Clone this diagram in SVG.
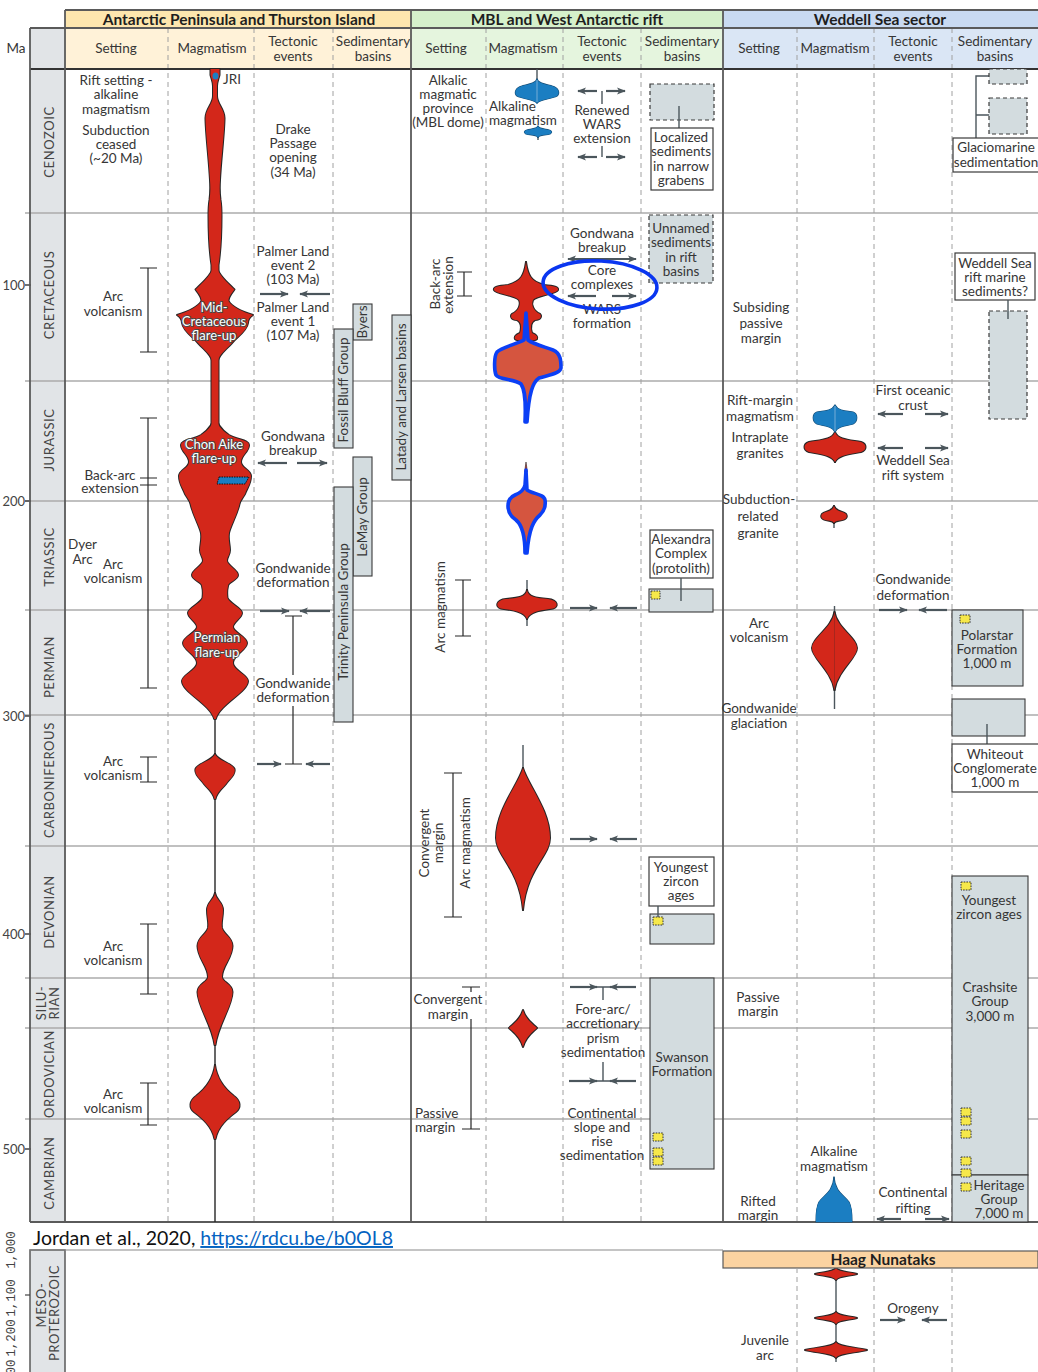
<svg xmlns="http://www.w3.org/2000/svg" width="1038" height="1372" viewBox="0 0 1038 1372">
<defs>
<style>
text{font-family:Lato,"Open Sans","Liberation Sans",sans-serif;font-size:13.5px;fill:#363636}
.c{text-anchor:middle}
.ttl{font-weight:700;font-size:15.5px;fill:#1e1e1e;text-anchor:middle}
.per{font-size:13px;letter-spacing:0.6px;fill:#454545;text-anchor:middle}
.ma{font-size:13px;fill:#444;text-anchor:end}
.mono{font-family:"Liberation Mono","DejaVu Sans Mono",monospace;font-size:12.5px;fill:#444;text-anchor:middle}
.grid{stroke:#ababab;stroke-width:1.5}
.frm{stroke:#5a5a5a;stroke-width:1.8;fill:none}
.dash{stroke:#a0a0a0;stroke-width:1;stroke-dasharray:5 4}
.bar{stroke:#262626;stroke-width:1.2;fill:none}
.arr{stroke:#4b565c;stroke-width:2.2;fill:none;marker-end:url(#ah)}
.stem{stroke:#4b565c;stroke-width:1.4;fill:none}
.sed{fill:#d3dcdf;stroke:#3a3a3a;stroke-width:1.1}
.sedd{fill:#d3dcdf;stroke:#3a3a3a;stroke-width:1.2;stroke-dasharray:4 3}
.lbl{fill:#fff;stroke:#3a3a3a;stroke-width:1.2}
.zr{fill:#f6e84a;stroke:#333;stroke-width:1;stroke-dasharray:1.6 1.1}
.ol{fill:#d3271a;stroke:#262626;stroke-width:2;stroke-linejoin:round}
.fl{fill:#d3271a;stroke:none}
.olb{fill:#1b7ec2;stroke:#174f78;stroke-width:1.2;stroke-linejoin:round}
.flb{fill:#1b7ec2;stroke:none}
.hl{fill:#d5553f;stroke:#0b3ff5;stroke-width:3.6;stroke-linejoin:round}
.halo{fill:#fff;stroke:#4a4a4a;stroke-width:1.8;paint-order:stroke;stroke-linejoin:round;text-anchor:middle;font-size:13px}
</style>
<marker id="ah" viewBox="0 0 10 8" refX="9" refY="4" markerWidth="9" markerHeight="7.2" orient="auto-start-reverse" markerUnits="userSpaceOnUse">
<path d="M0,0 L10,4 L0,8 L2.5,4 Z" fill="#4b565c"/>
</marker>

<!-- red magmatism profiles: right halves, mirrored about each column axis -->
<g id="redSet">
 <g id="apR">
  <path d="M215,69 L219.5,69 L219.5,75 C218.5,79 217,82 217,86 L217,96 C217,104 224.5,109 224.5,118 C224.5,132 221,160 220,180 C219.5,188 219.5,193 220.5,200 C221.5,206 221.5,211 221.5,216 C221.5,236 220.5,252 218.5,265 L218.5,432 L215,432 Z"/>
  <path d="M215,262 C217,274 227,282 234.5,289.5 C231,294 228.5,297 228.5,301 C232,307 243,312 253,315 C250,317 248,319 248,323 C247,331 237,337 232,343 C226,350 219,354 217.5,362 L215,362 Z"/>
  <path d="M215,414 C216.5,424 221,430 229,435 C238,440 249,440 249,445 C249,452 241,455 241,462 C241,468 251,470 251,476 C251,484 247,488 245,494 C242,499 240,501 239.5,504 C237,515 231,525 229,533 C228,540 230,545 230,550 C230,555 227,557 227,561 C228,566 238,570 238,575 C238,580 228,582 228,586 C227,590 227,594 227.5,598 C230,604 242,608 242,613 C242,618 233,622 233,627 C233,632 247,637 247,643 C247,650 233,655 233,663 C233,670 248,675 248,681 C248,692 220,704 215.8,719 L215,719 Z"/>
  <path d="M215,754 C218,761 232,763 234.5,769 C236,775 229,779 226,784 C222,789 217,792 215.5,799 L215,799 Z"/>
  <path d="M215,893 C216,900 223,902 223,910 C223,918 221,922 222,928 C224,935 232.5,937 232.5,946 C232.5,958 222,966 222,977 C222,982 232.5,984 232.5,992 C232.5,1006 218,1025 215.5,1045 L215,1045 Z"/>
  <path d="M215,1065 C217,1080 226,1090 234,1096 C241,1101 241,1108 236,1112 C228,1118 218,1126 215.5,1139 L215,1139 Z"/>
 </g>
 <use href="#apR" transform="matrix(-1 0 0 1 430 0)"/>
 <path id="mK" d="M526,262 C528,276 531,281 544,285 C554,286 559,287 558,290 C556,294 538,295 533,300 C531,304 533,311 540,314 C542,316 541,320 535,320 C531,322 530,326 532,333 C536,335 538,336 537,339 C535,341 529,340 526,341 Z"/>
 <use href="#mK" transform="matrix(-1 0 0 1 1052 0)"/>
 <path id="mP" d="M527,590 C528,597 536,598 548,599 C558,600 559,607 553,608.5 C543,610 530,611 527,619 Z"/>
 <use href="#mP" transform="matrix(-1 0 0 1 1054 0)"/>
 <path id="mC" d="M523,768 C528,785 550,810 550,838 C550,856 527,868 523,910 Z"/>
 <use href="#mC" transform="matrix(-1 0 0 1 1046 0)"/>
 <path d="M523,1010 C526,1020 533,1024 537,1028 C533,1032 526,1036 523,1047 C520,1036 513,1032 509,1028 C513,1024 520,1020 523,1010 Z"/>
 <path id="wJr" d="M835,432 C838,440 850,440 861,442 C867,444 867,450 861,452 C850,454 838,455 835,462 Z"/>
 <use href="#wJr" transform="matrix(-1 0 0 1 1670 0)"/>
 <path id="wT" d="M834,506 C836,512 843,511 846,514 C848,517 846,520 840,520.5 C837,521 835,521 834,523 Z"/>
 <use href="#wT" transform="matrix(-1 0 0 1 1668 0)"/>
 <path id="wP" d="M834.5,612 C837,628 857,638 857,648 C857,658 838,670 834.5,690 Z"/>
 <use href="#wP" transform="matrix(-1 0 0 1 1669 0)"/>
 <path d="M836,1268 C838,1272 850,1272 857,1274 C850,1276 838,1276 836,1280 C834,1276 822,1276 815,1274 C822,1272 834,1272 836,1268 Z"/>
 <path d="M836,1312 C838,1316 850,1316 857,1318 C850,1320 838,1320 836,1324 C834,1320 822,1320 815,1318 C822,1316 834,1316 836,1312 Z"/>
 <path d="M836,1342 C839,1347 855,1347 867,1350 C855,1353 839,1353 836,1358 C833,1353 817,1353 805,1350 C817,1347 833,1347 836,1342 Z"/>
</g>

<!-- blue (alkaline / rift-margin) magmatism profiles -->
<g id="blueSet">
 <path id="bU" d="M537,79 C538,83 544,84 552,86 C559,88 560,93 557,96 C551,99 541,99 537,103 Z"/>
 <use href="#bU" transform="matrix(-1 0 0 1 1074 0)"/>
 <path id="bL" d="M538,126 C539,129 545,129 549,130 C553,131 552,134 548,134.5 C543,135 539,135 538,137.5 Z"/>
 <use href="#bL" transform="matrix(-1 0 0 1 1076 0)"/>
 <path id="wJb" d="M835,405 C838,411 846,411 853,412 C858,414 858,421 853,424 C846,426 838,426 835,432 Z"/>
 <use href="#wJb" transform="matrix(-1 0 0 1 1670 0)"/>
 <path id="wC" d="M834,1177 C835,1192 844,1195 849,1202 C852,1208 852,1215 852,1222 L834,1222 Z"/>
 <use href="#wC" transform="matrix(-1 0 0 1 1668 0)"/>
</g>
</defs>

<rect width="1038" height="1372" fill="#fff"/>

<!-- header bands -->
<g id="header">
 <rect x="65" y="10" width="346" height="18" fill="#fde6ae"/>
 <rect x="65" y="28" width="346" height="41" fill="#fff2d8"/>
 <rect x="411" y="10" width="312" height="18" fill="#d5f0cb"/>
 <rect x="411" y="28" width="312" height="41" fill="#e5f5de"/>
 <rect x="723" y="10" width="315" height="18" fill="#c9daf1"/>
 <rect x="723" y="28" width="315" height="41" fill="#dae6f5"/>
 <text class="ttl" x="239" y="24.5">Antarctic Peninsula and Thurston Island</text>
 <text class="ttl" x="567" y="24.5">MBL and West Antarctic rift</text>
 <text class="ttl" x="880" y="24.5">Weddell Sea sector</text>
 <text x="16" y="52.5" class="c">Ma</text>
 <text class="c" x="116" y="52.5">Setting</text>
 <text class="c" x="212" y="52.5">Magmatism</text>
 <text class="c" x="293" y="46">Tectonic</text>
 <text class="c" x="293" y="61">events</text>
 <text class="c" x="373" y="46">Sedimentary</text>
 <text class="c" x="373" y="61">basins</text>
 <text class="c" x="446" y="52.5">Setting</text>
 <text class="c" x="523" y="52.5">Magmatism</text>
 <text class="c" x="602" y="46">Tectonic</text>
 <text class="c" x="602" y="61">events</text>
 <text class="c" x="682" y="46">Sedimentary</text>
 <text class="c" x="682" y="61">basins</text>
 <text class="c" x="759" y="52.5">Setting</text>
 <text class="c" x="835" y="52.5">Magmatism</text>
 <text class="c" x="913" y="46">Tectonic</text>
 <text class="c" x="913" y="61">events</text>
 <text class="c" x="995" y="46">Sedimentary</text>
 <text class="c" x="995" y="61">basins</text>
</g>

<!-- geological time column -->
<g id="timescale">
 <rect x="30" y="28" width="35" height="1194" fill="#e1e4e7"/>
 <g class="grid">
  <line x1="25" y1="213" x2="1038" y2="213"/>
  <line x1="25" y1="381" x2="1038" y2="381"/>
  <line x1="25" y1="501" x2="1038" y2="501"/>
  <line x1="25" y1="610" x2="1038" y2="610"/>
  <line x1="25" y1="715" x2="1038" y2="715"/>
  <line x1="25" y1="846" x2="1038" y2="846"/>
  <line x1="25" y1="978" x2="1038" y2="978"/>
  <line x1="25" y1="1028" x2="1038" y2="1028"/>
  <line x1="25" y1="1119" x2="1038" y2="1119"/>
 </g>
 <path d="M25,285H31M25,501H31M25,716H31M25,934H31M25,1149H31" stroke="#444" stroke-width="1.3"/>
 <text class="ma" x="25" y="289.5">100</text>
 <text class="ma" x="25" y="505.5">200</text>
 <text class="ma" x="25" y="720.5">300</text>
 <text class="ma" x="25" y="938.5">400</text>
 <text class="ma" x="25" y="1153.5">500</text>
 <text class="per" transform="translate(54,142) rotate(-90)">CENOZOIC</text>
 <text class="per" transform="translate(54,295) rotate(-90)">CRETACEOUS</text>
 <text class="per" transform="translate(54,440) rotate(-90)">JURASSIC</text>
 <text class="per" transform="translate(54,557) rotate(-90)">TRIASSIC</text>
 <text class="per" transform="translate(54,667) rotate(-90)">PERMIAN</text>
 <text class="per" transform="translate(54,780) rotate(-90)">CARBONIFEROUS</text>
 <text class="per" transform="translate(54,912) rotate(-90)">DEVONIAN</text>
 <text class="per" transform="translate(46,1003) rotate(-90)">SILU-</text>
 <text class="per" transform="translate(59,1003) rotate(-90)">RIAN</text>
 <text class="per" transform="translate(54,1074) rotate(-90)">ORDOVICIAN</text>
 <text class="per" transform="translate(54,1173) rotate(-90)">CAMBRIAN</text>
</g>

<!-- column separators and frame -->
<g id="frame">
 <g class="dash">
  <line x1="168" y1="28" x2="168" y2="1222"/>
  <line x1="254" y1="28" x2="254" y2="1222"/>
  <line x1="333" y1="28" x2="333" y2="1222"/>
  <line x1="486" y1="28" x2="486" y2="1222"/>
  <line x1="563" y1="28" x2="563" y2="1222"/>
  <line x1="641" y1="28" x2="641" y2="1222"/>
  <line x1="797" y1="28" x2="797" y2="1222"/>
  <line x1="874" y1="28" x2="874" y2="1222"/>
  <line x1="952" y1="28" x2="952" y2="1222"/>
 </g>
 <g class="frm">
  <line x1="65" y1="10" x2="1038" y2="10"/>
  <line x1="30" y1="28" x2="1038" y2="28"/>
  <line x1="30" y1="69" x2="1038" y2="69" stroke="#333"/>
  <line x1="30" y1="1222" x2="1038" y2="1222"/>
  <line x1="30" y1="28" x2="30" y2="1222"/>
  <line x1="65" y1="10" x2="65" y2="1222"/>
  <line x1="411" y1="10" x2="411" y2="1222"/>
  <line x1="723" y1="10" x2="723" y2="1222"/>
 </g>
</g>

<!-- sedimentary basin boxes -->
<g id="basins">
 <rect class="sed" x="353" y="304" width="19" height="36"/>
 <rect class="sed" x="334" y="329" width="19" height="119"/>
 <rect class="sed" x="353" y="457" width="19" height="119"/>
 <rect class="sed" x="334" y="487" width="19" height="235"/>
 <rect class="sed" x="392" y="315" width="19" height="165"/>
 <text class="c" transform="translate(367,322) rotate(-90)">Byers</text>
 <text class="c" transform="translate(348,390) rotate(-90)">Fossil Bluff Group</text>
 <text class="c" transform="translate(367,517) rotate(-90)">LeMay Group</text>
 <text class="c" transform="translate(348,612) rotate(-90)">Trinity Peninsula Group</text>
 <text class="c" transform="translate(406,397) rotate(-90)">Latady and Larsen basins</text>

 <rect class="sedd" x="650" y="84" width="64" height="36"/>
 <line x1="679" y1="106" x2="679" y2="128" class="stem"/>
 <rect class="lbl" x="651" y="128" width="62" height="62"/>
 <rect class="sedd" x="649" y="215" width="64" height="68"/>
 <rect class="lbl" x="650" y="530" width="63" height="48"/>
 <rect class="sed" x="649" y="589" width="64" height="23"/>
 <line x1="681" y1="578" x2="681" y2="601" class="stem"/>
 <rect class="zr" x="651" y="591" width="9" height="8"/>
 <rect class="lbl" x="649" y="857" width="65" height="49"/>
 <rect class="sed" x="650" y="914" width="64" height="30"/>
 <line x1="658" y1="906" x2="658" y2="918" class="stem"/>
 <rect class="zr" x="653" y="917" width="10" height="8"/>
 <rect class="sed" x="650" y="978" width="64" height="191"/>
 <rect class="zr" x="653" y="1133" width="10" height="8"/>
 <rect class="zr" x="653" y="1148" width="10" height="8"/>
 <rect class="zr" x="653" y="1157" width="10" height="8"/>

 <path class="stem" d="M993,76H976V138M976,115H995"/>
 <rect class="sedd" x="989" y="69" width="38" height="15"/>
 <rect class="sedd" x="989" y="98" width="38" height="36"/>
 <rect class="lbl" x="953" y="138" width="90" height="34"/>
 <rect class="lbl" x="955" y="253" width="80" height="47"/>
 <rect class="sedd" x="989" y="311" width="38" height="108"/>
 <line x1="1008" y1="300" x2="1008" y2="319" class="stem"/>
 <rect class="sed" x="952" y="610" width="71" height="76"/>
 <rect class="zr" x="960" y="615" width="10" height="8"/>
 <rect class="sed" x="952" y="699" width="73" height="37"/>
 <line x1="987" y1="724" x2="987" y2="744" class="stem"/>
 <rect class="lbl" x="952" y="744" width="90" height="48"/>
 <rect class="sed" x="952" y="876" width="76" height="299"/>
 <rect class="sed" x="952" y="1175" width="76" height="47"/>
 <rect class="zr" x="961" y="882" width="10" height="8"/>
 <rect class="zr" x="961" y="1108" width="10" height="8"/>
 <rect class="zr" x="961" y="1117" width="10" height="8"/>
 <rect class="zr" x="961" y="1130" width="10" height="8"/>
 <rect class="zr" x="961" y="1157" width="10" height="8"/>
 <rect class="zr" x="961" y="1169" width="10" height="8"/>
 <rect class="zr" x="961" y="1183" width="10" height="8"/>

 <text class="c" x="681" y="141.5">Localized</text>
 <text class="c" x="681" y="156">sediments</text>
 <text class="c" x="681" y="170.5">in narrow</text>
 <text class="c" x="681" y="185">grabens</text>
 <text class="c" x="681" y="232.5">Unnamed</text>
 <text class="c" x="681" y="247">sediments</text>
 <text class="c" x="681" y="261.5">in rift</text>
 <text class="c" x="681" y="276">basins</text>
 <text class="c" x="681" y="543.5">Alexandra</text>
 <text class="c" x="681" y="558">Complex</text>
 <text class="c" x="681" y="572.5">(protolith)</text>
 <text class="c" x="681" y="871.5">Youngest</text>
 <text class="c" x="681" y="886">zircon</text>
 <text class="c" x="681" y="900">ages</text>
 <text class="c" x="682" y="1061.5">Swanson</text>
 <text class="c" x="682" y="1075.5">Formation</text>

 <text class="c" x="996" y="151.5">Glaciomarine</text>
 <text class="c" x="996" y="167">sedimentation</text>
 <text class="c" x="995" y="267.5">Weddell Sea</text>
 <text class="c" x="995" y="281.5">rift marine</text>
 <text class="c" x="995" y="295.5">sediments?</text>
 <text class="c" x="987" y="639.5">Polarstar</text>
 <text class="c" x="987" y="653.5">Formation</text>
 <text class="c" x="987" y="667.5">1,000 m</text>
 <text class="c" x="995" y="758.5">Whiteout</text>
 <text class="c" x="995" y="772.5">Conglomerate</text>
 <text class="c" x="995" y="787">1,000 m</text>
 <text class="c" x="989" y="904.5">Youngest</text>
 <text class="c" x="989" y="918.5">zircon ages</text>
 <text class="c" x="990" y="991.5">Crashsite</text>
 <text class="c" x="990" y="1006">Group</text>
 <text class="c" x="990" y="1020.5">3,000 m</text>
 <text class="c" x="999" y="1189.5">Heritage</text>
 <text class="c" x="999" y="1204">Group</text>
 <text class="c" x="999" y="1218">7,000 m</text>
</g>

<!-- magmatism profiles -->
<g id="magmatism">
 <line x1="215" y1="69" x2="215" y2="1222" stroke="#262626" stroke-width="1.4"/>
 <path class="stem" d="M537,69V80M538,136V140M527,580V591M527,618V626M523,745V770M834,520V528M834.5,606V614M834.5,688V709M836,1270V1362" stroke="#333"/>
 <use href="#redSet" class="ol"/>
 <use href="#redSet" class="fl"/>
 <use href="#blueSet" class="olb"/>
 <use href="#blueSet" class="flb"/>
 <path d="M537,80V102M835,406V431" stroke="#8db9dc" stroke-width="0.8"/>
 <ellipse cx="215.5" cy="76" rx="3" ry="3.5" fill="#1b7ec2"/>
 <polygon points="219,477 249,477 245,484 217,484" fill="#1b7ec2" stroke="#111" stroke-width="1" stroke-dasharray="1.5 1"/>
 <path d="M526,462 L527.4,472 L524.6,472 Z" fill="#d3271a" stroke="#262626" stroke-width="0.6"/>
 <path class="hl" d="M526,313 L528,340 C533,344 545,347 553,350 C561,353 561,362 561,368 C560,374 548,375 539,378 C533,382 529,392 527,422 L525,422 C526,400 525,390 521,384 C515,379 499,380 496,375 C494,370 494,356 497,352 C502,347 517,344 524,340 Z"/>
 <path class="hl" d="M526,470 L527,490 C533,494 544,494 545,500 C546,506 545,510 540,515 C534,520 529,528 527,553 L525,553 C525,535 522,525 516,520 C510,516 508,512 508,506 C508,500 510,497 515,495 C520,493 524,490 525,485 Z"/>
 <text x="223" y="83.5">JRI</text>
 <text class="halo" x="214" y="312">Mid-</text>
 <text class="halo" x="214" y="326">Cretaceous</text>
 <text class="halo" x="214" y="340">flare-up</text>
 <text class="halo" x="214" y="448.5">Chon Aike</text>
 <text class="halo" x="214" y="463">flare-up</text>
 <text class="halo" x="217" y="642">Permian</text>
 <text class="halo" x="217" y="656.5">flare-up</text>
</g>

<!-- setting column texts and range bars -->
<g id="settings">
 <path class="bar" d="M140,268H157M148,268V352M140,352H157M140,418H157M148,418V688M140,688H157M140,478H157M140,485H157M140,757H157M148,757V782M140,782H157M140,924H157M148,924V994M140,994H157M140,1083H157M148,1083V1125M140,1125H157"/>
 <path class="bar" d="M457,272H472M464,272V296M457,296H472M455,580H471M463,580V636M455,636H471M444,773H462M453,773V917M444,917H462M462,987H480M471,987V992M471,1019V1129M462,1129H480"/>
 <text class="c" x="116" y="84.5">Rift setting -</text>
 <text class="c" x="116" y="99">alkaline</text>
 <text class="c" x="116" y="113.5">magmatism</text>
 <text class="c" x="116" y="134.5">Subduction</text>
 <text class="c" x="116" y="148.5">ceased</text>
 <text class="c" x="116" y="162.5">(~20 Ma)</text>
 <text class="c" x="113" y="300.5">Arc</text>
 <text class="c" x="113" y="315.5">volcanism</text>
 <text class="c" x="110" y="479.5">Back-arc</text>
 <text class="c" x="110" y="493">extension</text>
 <text class="c" x="82.5" y="548.5">Dyer</text>
 <text class="c" x="82.5" y="563.5">Arc</text>
 <text class="c" x="113" y="568.5">Arc</text>
 <text class="c" x="113" y="583">volcanism</text>
 <text class="c" x="113" y="765.5">Arc</text>
 <text class="c" x="113" y="779.5">volcanism</text>
 <text class="c" x="113" y="950.5">Arc</text>
 <text class="c" x="113" y="964.5">volcanism</text>
 <text class="c" x="113" y="1098.5">Arc</text>
 <text class="c" x="113" y="1112.5">volcanism</text>

 <text class="c" x="448" y="84.5">Alkalic</text>
 <text class="c" x="448" y="98.5">magmatic</text>
 <text class="c" x="448" y="112.5">province</text>
 <text class="c" x="448" y="126.5">(MBL dome)</text>
 <text x="489" y="110.5">Alkaline</text>
 <text x="489" y="125">magmatism</text>
 <text class="c" transform="translate(440,284) rotate(-90)">Back-arc</text>
 <text class="c" transform="translate(453,285) rotate(-90)">extension</text>
 <text class="c" transform="translate(445,607) rotate(-90)">Arc magmatism</text>
 <text class="c" transform="translate(429,843) rotate(-90)">Convergent</text>
 <text class="c" transform="translate(443,843) rotate(-90)">margin</text>
 <text class="c" transform="translate(470,843) rotate(-90)">Arc magmatism</text>
 <text class="c" x="448" y="1004">Convergent</text>
 <text class="c" x="448" y="1018.5">margin</text>
 <text x="415" y="1117.5">Passive</text>
 <text x="415" y="1132">margin</text>

 <text class="c" x="761" y="311.5">Subsiding</text>
 <text class="c" x="761" y="327.5">passive</text>
 <text class="c" x="761" y="343">margin</text>
 <text class="c" x="760" y="404.5">Rift-margin</text>
 <text class="c" x="760" y="420.5">magmatism</text>
 <text class="c" x="760" y="441.5">Intraplate</text>
 <text class="c" x="760" y="457.5">granites</text>
 <rect x="724" y="492" width="72" height="13" fill="#fff"/>
 <text class="c" x="759" y="504">Subduction-</text>
 <text class="c" x="758" y="520.5">related</text>
 <text class="c" x="758" y="537.5">granite</text>
 <text class="c" x="759" y="627.5">Arc</text>
 <text class="c" x="759" y="641.5">volcanism</text>
 <text class="c" x="759" y="712.5">Gondwanide</text>
 <text class="c" x="759" y="727.5">glaciation</text>
 <text class="c" x="758" y="1001.5">Passive</text>
 <text class="c" x="758" y="1015.5">margin</text>
 <text class="c" x="834" y="1155.5">Alkaline</text>
 <text class="c" x="834" y="1170.5">magmatism</text>
 <text class="c" x="758" y="1205.5">Rifted</text>
 <text class="c" x="758" y="1220">margin</text>
</g>

<!-- tectonic events: labels and convergence / extension arrows -->
<g id="tectonics">
 <text class="c" x="293" y="133.5">Drake</text>
 <text class="c" x="293" y="148">Passage</text>
 <text class="c" x="293" y="162">opening</text>
 <text class="c" x="293" y="176.5">(34 Ma)</text>
 <text class="c" x="293" y="255.5">Palmer Land</text>
 <text class="c" x="293" y="269.5">event 2</text>
 <text class="c" x="293" y="283.5">(103 Ma)</text>
 <text class="c" x="293" y="311.5">Palmer Land</text>
 <text class="c" x="293" y="325.5">event 1</text>
 <text class="c" x="293" y="340">(107 Ma)</text>
 <text class="c" x="293" y="440.5">Gondwana</text>
 <text class="c" x="293" y="454.5">breakup</text>
 <text class="c" x="293" y="572.5">Gondwanide</text>
 <text class="c" x="293" y="586.5">deformation</text>
 <text class="c" x="293" y="687.5">Gondwanide</text>
 <text class="c" x="293" y="702">deformation</text>
 <path class="bar" d="M285,616H302M293,616V675M293,706V764M285,764H302" stroke="#4b565c"/>

 <text class="c" x="602" y="114.5">Renewed</text>
 <text class="c" x="602" y="128.5">WARS</text>
 <text class="c" x="602" y="142.5">extension</text>
 <text class="c" x="602" y="237.5">Gondwana</text>
 <text class="c" x="602" y="252">breakup</text>
 <text class="c" x="602" y="274.5">Core</text>
 <text class="c" x="602" y="288.5">complexes</text>
 <text class="c" x="602" y="313.5">WARS</text>
 <text class="c" x="602" y="327.5">formation</text>
 <text class="c" x="603" y="1013.5">Fore-arc/</text>
 <text class="c" x="603" y="1028">accretionary</text>
 <text class="c" x="603" y="1042.5">prism</text>
 <text class="c" x="603" y="1056.5">sedimentation</text>
 <text class="c" x="602" y="1117.5">Continental</text>
 <text class="c" x="602" y="1131.5">slope and</text>
 <text class="c" x="602" y="1145.5">rise</text>
 <text class="c" x="602" y="1159.5">sedimentation</text>
 <path class="stem" d="M602,91V104M602,146V157M596,987H611M603,987V1000M603,1062V1081M596,1081H611"/>

 <text class="c" x="913" y="395">First oceanic</text>
 <text class="c" x="913" y="410">crust</text>
 <text class="c" x="913" y="464.5">Weddell Sea</text>
 <text class="c" x="913" y="479.5">rift system</text>
 <text class="c" x="913" y="583.5">Gondwanide</text>
 <text class="c" x="913" y="600">deformation</text>
 <text class="c" x="913" y="1196.5">Continental</text>
 <text class="c" x="913" y="1212.5">rifting</text>

 <g id="arrows" class="arr">
  <line x1="260" y1="294" x2="288" y2="294"/>
  <line x1="330" y1="294" x2="300" y2="294"/>
  <line x1="287" y1="463" x2="258" y2="463"/>
  <line x1="297" y1="463" x2="327" y2="463"/>
  <line x1="260" y1="611" x2="289" y2="611"/>
  <line x1="330" y1="611" x2="300" y2="611"/>
  <line x1="257" y1="764" x2="281" y2="764"/>
  <line x1="330" y1="764" x2="306" y2="764"/>
  <line x1="597" y1="91" x2="578" y2="91"/>
  <line x1="606" y1="91" x2="625" y2="91"/>
  <line x1="597" y1="157" x2="578" y2="157"/>
  <line x1="606" y1="157" x2="625" y2="157"/>
  <line x1="568" y1="259" x2="636" y2="259" marker-start="url(#ah)"/>
  <line x1="596" y1="296" x2="568" y2="296"/>
  <line x1="612" y1="296" x2="636" y2="296"/>
  <line x1="570" y1="608" x2="597" y2="608"/>
  <line x1="637" y1="608" x2="610" y2="608"/>
  <line x1="570" y1="839" x2="597" y2="839"/>
  <line x1="637" y1="839" x2="610" y2="839"/>
  <line x1="570" y1="987" x2="597" y2="987"/>
  <line x1="636" y1="987" x2="610" y2="987"/>
  <line x1="569" y1="1081" x2="597" y2="1081"/>
  <line x1="636" y1="1081" x2="610" y2="1081"/>
  <line x1="903" y1="414" x2="878" y2="414"/>
  <line x1="925" y1="414" x2="948" y2="414"/>
  <line x1="903" y1="448" x2="878" y2="448"/>
  <line x1="925" y1="448" x2="948" y2="448"/>
  <line x1="879" y1="610" x2="907" y2="610"/>
  <line x1="947" y1="610" x2="919" y2="610"/>
  <line x1="901" y1="1219" x2="877" y2="1219"/>
  <line x1="925" y1="1219" x2="949" y2="1219"/>
  <line x1="880" y1="1320" x2="905" y2="1320"/>
  <line x1="947" y1="1320" x2="922" y2="1320"/>
 </g>
 <ellipse cx="600" cy="285" rx="57" ry="24" fill="none" stroke="#0a36f0" stroke-width="3.6" transform="rotate(3 600 285)"/>
</g>

<!-- citation -->
<text x="33" y="1245" style="font-size:19.5px;fill:#111">Jordan et al., 2020, <tspan fill="#0563c1" text-decoration="underline">https://rdcu.be/b0OL8</tspan></text>

<!-- Mesoproterozoic panel -->
<g id="haag">
 <rect x="30" y="1250" width="35" height="130" fill="#e1e4e7" stroke="#5a5a5a" stroke-width="1.5"/>
 <line x1="30" y1="1250" x2="723" y2="1250" stroke="#8a8a8a" stroke-width="1.2"/>
 <line x1="25" y1="1295" x2="30" y2="1295" stroke="#444" stroke-width="1.2"/>
 <text class="mono" transform="translate(15,1250) rotate(-90)">1,000</text>
 <text class="mono" transform="translate(15,1298) rotate(-90)">1,100</text>
 <text class="mono" transform="translate(15,1338) rotate(-90)">1,200</text>
 <text class="mono" transform="translate(15,1367) rotate(-90)">00</text>
 <text class="per" transform="translate(46,1305) rotate(-90)">MESO-</text>
 <text class="per" transform="translate(59,1313) rotate(-90)">PROTEROZOIC</text>
 <rect x="723" y="1251" width="315" height="17" fill="#fbd3a1" stroke="#5a5a5a" stroke-width="1.2"/>
 <text class="ttl" x="883" y="1265">Haag Nunataks</text>
 <g class="dash">
  <line x1="797" y1="1268" x2="797" y2="1372"/>
  <line x1="874" y1="1268" x2="874" y2="1372"/>
  <line x1="952" y1="1268" x2="952" y2="1372"/>
 </g>
 <text class="c" x="913" y="1312.5">Orogeny</text>
 <text class="c" x="765" y="1344.5">Juvenile</text>
 <text class="c" x="765" y="1359.5">arc</text>
</g>
</svg>
